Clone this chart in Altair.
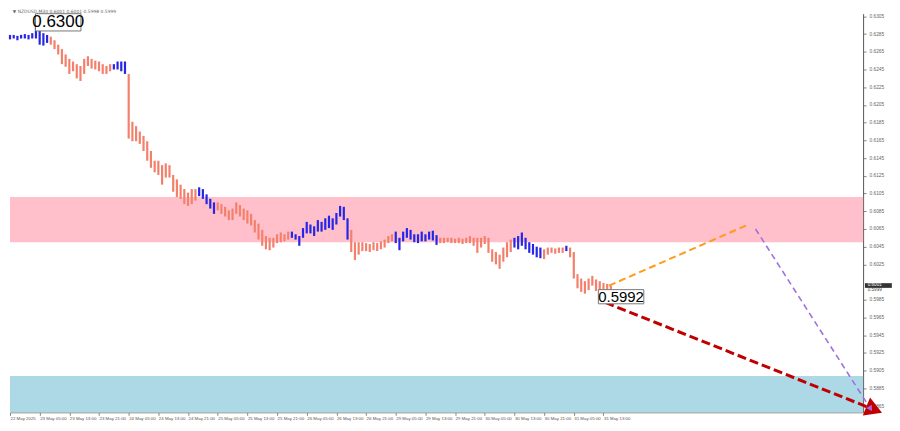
import altair as alt
import pandas as pd

# ---- price bars (one entry = 2 M30 bars) ----
bar_high = [
    0.6284, 0.6284, 0.6283, 0.6284, 0.6285, 0.6284, 0.6286, 0.6298, 0.6295, 0.6286,
    0.6284, 0.6282, 0.6278, 0.6273, 0.6268, 0.6262, 0.6257, 0.6254, 0.6251, 0.6249,
    0.6257, 0.6260, 0.6257, 0.6255, 0.6254, 0.6251, 0.6249, 0.6251, 0.6251, 0.6254,
    0.6254, 0.6254, 0.6240, 0.6186, 0.6181, 0.6175, 0.6170, 0.6164, 0.6153, 0.6142,
    0.6142, 0.6137, 0.6139, 0.6137, 0.6126, 0.6121, 0.6115, 0.6110, 0.6106, 0.6110,
    0.6110, 0.6112, 0.6110, 0.6104, 0.6099, 0.6095, 0.6095, 0.6093, 0.6090, 0.6086,
    0.6088, 0.6095, 0.6092, 0.6088, 0.6086, 0.6082, 0.6075, 0.6071, 0.6064, 0.6057,
    0.6055, 0.6055, 0.6059, 0.6061, 0.6059, 0.6062, 0.6062, 0.6059, 0.6057, 0.6066,
    0.6073, 0.6070, 0.6068, 0.6075, 0.6073, 0.6077, 0.6080, 0.6077, 0.6083, 0.6091,
    0.6090, 0.6077, 0.6064, 0.6050, 0.6050, 0.6050, 0.6049, 0.6048, 0.6050, 0.6049,
    0.6051, 0.6053, 0.6057, 0.6059, 0.6062, 0.6055, 0.6062, 0.6066, 0.6064, 0.6059,
    0.6059, 0.6062, 0.6059, 0.6062, 0.6063, 0.6058, 0.6055, 0.6055, 0.6055, 0.6055,
    0.6054, 0.6055, 0.6054, 0.6055, 0.6057, 0.6055, 0.6055, 0.6055, 0.6057, 0.6055,
    0.6042, 0.6039, 0.6036, 0.6044, 0.6050, 0.6053, 0.6055, 0.6057, 0.6061, 0.6055,
    0.6050, 0.6048, 0.6045, 0.6044, 0.6042, 0.6044, 0.6044, 0.6043, 0.6044, 0.6044,
    0.6046, 0.6044, 0.6039, 0.6014, 0.6009, 0.6006, 0.6009, 0.6012, 0.6008, 0.6006,
    0.6004, 0.6003, 0.6001,
]
bar_low = [
    0.6279, 0.6280, 0.6278, 0.6280, 0.6280, 0.6279, 0.6280, 0.6280, 0.6273, 0.6272,
    0.6275, 0.6273, 0.6268, 0.6262, 0.6251, 0.6248, 0.6240, 0.6243, 0.6235, 0.6232,
    0.6240, 0.6249, 0.6246, 0.6245, 0.6243, 0.6240, 0.6240, 0.6243, 0.6245, 0.6245,
    0.6243, 0.6240, 0.6167, 0.6164, 0.6164, 0.6161, 0.6153, 0.6142, 0.6134, 0.6129,
    0.6126, 0.6115, 0.6123, 0.6123, 0.6107, 0.6101, 0.6099, 0.6093, 0.6091, 0.6093,
    0.6097, 0.6102, 0.6099, 0.6093, 0.6088, 0.6082, 0.6086, 0.6082, 0.6079, 0.6075,
    0.6075, 0.6082, 0.6079, 0.6075, 0.6071, 0.6069, 0.6061, 0.6053, 0.6046, 0.6042,
    0.6041, 0.6044, 0.6049, 0.6050, 0.6051, 0.6053, 0.6055, 0.6053, 0.6046, 0.6055,
    0.6060, 0.6060, 0.6057, 0.6062, 0.6062, 0.6064, 0.6066, 0.6064, 0.6070, 0.6079,
    0.6075, 0.6053, 0.6039, 0.6030, 0.6036, 0.6040, 0.6040, 0.6039, 0.6041, 0.6040,
    0.6042, 0.6044, 0.6049, 0.6051, 0.6049, 0.6041, 0.6051, 0.6055, 0.6053, 0.6050,
    0.6049, 0.6051, 0.6051, 0.6053, 0.6052, 0.6047, 0.6049, 0.6049, 0.6050, 0.6049,
    0.6049, 0.6049, 0.6048, 0.6049, 0.6049, 0.6046, 0.6038, 0.6044, 0.6048, 0.6038,
    0.6028, 0.6025, 0.6020, 0.6028, 0.6033, 0.6039, 0.6044, 0.6042, 0.6046, 0.6042,
    0.6038, 0.6036, 0.6033, 0.6032, 0.6031, 0.6036, 0.6038, 0.6037, 0.6038, 0.6038,
    0.6040, 0.6033, 0.6009, 0.5998, 0.5994, 0.5992, 0.5996, 0.6001, 0.5995, 0.5992,
    0.5993, 0.5993, 0.5992,
]
assert len(bar_high) == len(bar_low)

# wave sections (first entry, last entry, kind)
wave_segments = [
    (0, 10, "up"), (11, 27, "down"), (28, 31, "up"), (32, 50, "down"),
    (51, 55, "up"), (56, 75, "down"), (76, 91, "up"), (92, 103, "down"),
    (104, 115, "up"), (116, 135, "down"), (136, 143, "up"), (144, 149, "down"),
    (150, 150, "up"), (151, 162, "down"),
]
BARS_PER_ENTRY = 2

time_labels = [
    "22 May 2025", "23 May 05:00", "23 May 13:00", "23 May 21:00", "24 May 05:00",
    "24 May 13:00", "24 May 21:00", "25 May 05:00", "25 May 13:00", "25 May 21:00",
    "26 May 05:00", "26 May 13:00", "26 May 21:00", "29 May 05:00", "29 May 13:00",
    "29 May 21:00", "30 May 05:00", "30 May 13:00", "30 May 21:00", "31 May 05:00",
    "31 May 13:00",
]
BARS_PER_LABEL = 16
# price scale labels (0.6005 is hidden under the bid/ask tag in the picture)
price_ticks = [
    0.5865, 0.5885, 0.5905, 0.5925, 0.5945, 0.5965, 0.5985, 0.6025, 0.6045, 0.6065,
    0.6085, 0.6105, 0.6125, 0.6145, 0.6165, 0.6185, 0.6205, 0.6225, 0.6245, 0.6265,
    0.6285, 0.6305,
]

resistance_zone = (0.6050, 0.6101)
support_zone = (0.5858, 0.5899)

# forecast paths: (bar, price)
orange_path = [(323, 0.6001), (397, 0.6069)]
red_path = [(321, 0.5982), (466, 0.5861)]
purple_path = [(402, 0.6065), (464, 0.5862)]

high_label = ("0.6300", 26, 0.62985)
last_label = ("0.5992", 329.5, 0.59885)
bid_ask = ("0.6001", "0.5999")
header_text = "\u25bc NZDUSD,M30  0.6001 0.6001 0.5998 0.5999"

X_DOMAIN = [0, 460]
Y_DOMAIN = [0.5858, 0.6308]
W, H = 856, 400
BLUE = "#2626E6"
SALMON = "#F4806C"

# ---- build tables ----
kinds = [""] * len(bar_high)
for a, b, kind in wave_segments:
    for i in range(a, b + 1):
        kinds[i] = kind
bars = pd.DataFrame({
    "bar": [i * BARS_PER_ENTRY for i in range(len(bar_high))],
    "high": bar_high,
    "low": bar_low,
    "wave": kinds,
})

xs = alt.Scale(domain=X_DOMAIN, nice=False, zero=False)
ys = alt.Scale(domain=Y_DOMAIN, nice=False, zero=False)

label_arr = "[" + ",".join("'%s'" % t for t in time_labels) + "]"
x_axis = alt.Axis(
    values=[i * BARS_PER_LABEL for i in range(len(time_labels))],
    labelExpr=label_arr + "[round(datum.value/%d)]" % BARS_PER_LABEL,
    labelAlign="left", labelFontSize=4.4, labelColor="#555", labelFont="Liberation Sans",
    tickSize=3, tickColor="#888", domainColor="#888", labelPadding=1,
    grid=False, title=None, labelOverlap=False, labelFlush=False,
)
y_axis = alt.Axis(
    orient="right", values=price_ticks, format=".4f", labelFontSize=4.8,
    labelColor="#666", labelFont="Liberation Sans", tickSize=3, tickColor="#888",
    domainColor="#555", grid=False, title=None, labelOverlap=False, labelPadding=3,
)


def X(field):
    return alt.X(field, scale=xs, axis=x_axis)


def Y(field):
    return alt.Y(field, scale=ys, axis=y_axis)


zones = pd.DataFrame({
    "x0": [X_DOMAIN[0], X_DOMAIN[0]], "x1": [X_DOMAIN[1], X_DOMAIN[1]],
    "y0": [resistance_zone[0], support_zone[0]], "y1": [resistance_zone[1], support_zone[1]],
    "zone": ["res", "sup"],
})
zone_layer = alt.Chart(zones).mark_rect().encode(
    x=X("x0:Q"), x2="x1:Q", y=Y("y0:Q"), y2="y1:Q",
    color=alt.Color("zone:N", scale=alt.Scale(domain=["res", "sup"], range=["#FFC0CB", "#ADD8E6"]), legend=None),
)

bar_layer = alt.Chart(bars).mark_rule(strokeWidth=2.2).encode(
    x=X("bar:Q"), y=Y("low:Q"), y2="high:Q",
    stroke=alt.Stroke("wave:N", scale=alt.Scale(domain=["up", "down"], range=[BLUE, SALMON]), legend=None),
)


def path_df(path):
    return pd.DataFrame({"bar": [p[0] for p in path], "price": [p[1] for p in path]})


def dashed(path, color, width, dash):
    return alt.Chart(path_df(path)).mark_line(color=color, strokeWidth=width, strokeDash=dash).encode(
        x=X("bar:Q"), y=Y("price:Q"),
    )


orange_layer = dashed(orange_path, "#FF9A1A", 2, [7, 4])
purple_layer = dashed(purple_path, "#A070E0", 1.6, [6, 4])
red_layer = dashed(red_path, "#C00000", 3, [9, 4])


def head(point, color, angle, size):
    return alt.Chart(path_df([point])).mark_point(
        shape="triangle-right", filled=True, color=color, angle=angle, size=size, opacity=1
    ).encode(x=X("bar:Q"), y=Y("price:Q"))


red_head = head(red_path[-1], "#C00000", 22, 380)
purple_head = head(purple_path[-1], "#A070E0", 57, 40)


def price_box(label, width_bars, height_price, font_size):
    txt, bx, by = label
    box = pd.DataFrame({
        "x0": [bx - width_bars / 2], "x1": [bx + width_bars / 2],
        "y0": [by - height_price / 2], "y1": [min(by + height_price / 2, Y_DOMAIN[1])],
    })
    rect = alt.Chart(box).mark_rect(fill="white", stroke="#777", strokeWidth=1).encode(
        x=X("x0:Q"), x2="x1:Q", y=Y("y0:Q"), y2="y1:Q",
    )
    t = alt.Chart(pd.DataFrame({"bar": [bx], "price": [by], "t": [txt]})).mark_text(
        font="Liberation Sans", fontSize=font_size, color="black", align="center", baseline="middle"
    ).encode(x=X("bar:Q"), y=Y("price:Q"), text="t:N")
    return rect + t


box_high = price_box(high_label, 24.5, 0.0020, 17)
box_last = price_box(last_label, 24.5, 0.0016, 15)

# current bid/ask tag on the price scale
bid_box = alt.Chart(pd.DataFrame({"x0": [461.0], "x1": [475.5], "y0": [0.59985], "y1": [0.60038]})).mark_rect(
    fill="#333"
).encode(x=X("x0:Q"), x2="x1:Q", y=Y("y0:Q"), y2="y1:Q")
bid_text = alt.Chart(pd.DataFrame({
    "bar": [462.5, 462.5], "price": [0.60012, 0.59965], "t": list(bid_ask), "c": ["w", "g"],
})).mark_text(font="Liberation Sans", fontSize=4.6, align="left", baseline="middle").encode(
    x=X("bar:Q"), y=Y("price:Q"), text="t:N",
    color=alt.Color("c:N", scale=alt.Scale(domain=["w", "g"], range=["white", "#444"]), legend=None),
)

header = alt.Chart(pd.DataFrame({"bar": [1.5], "price": [Y_DOMAIN[1]], "t": [header_text]})).mark_text(
    font="DejaVu Sans", fontSize=4.5, color="#666", align="left", baseline="top", dy=-5
).encode(x=X("bar:Q"), y=Y("price:Q"), text="t:N")

chart = alt.layer(
    zone_layer, bar_layer, orange_layer, purple_layer, red_layer, red_head, purple_head,
    box_high, box_last, bid_box, bid_text, header,
).properties(width=W, height=H).resolve_scale(color="independent").configure(
    background="white", padding=0
).configure_view(stroke=None)

chart.save("out.html", embed_options={"renderer": "svg", "actions": False})
